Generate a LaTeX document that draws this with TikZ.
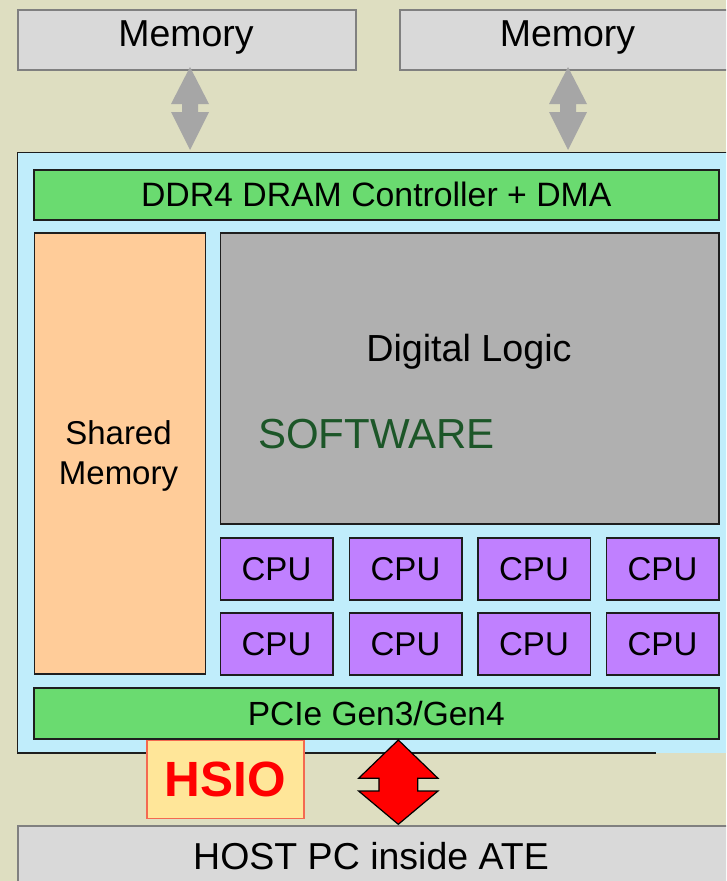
\documentclass[tikz,border=0pt]{standalone}
\usepackage{fontspec}
\setmainfont{Liberation Sans}
\usetikzlibrary{calc}

\definecolor{bgbeige}{RGB}{222,222,193}
\definecolor{memfill}{RGB}{217,217,217}
\definecolor{memline}{RGB}{128,128,128}
\definecolor{boardblue}{RGB}{192,237,251}
\definecolor{ctrlgreen}{RGB}{106,219,112}
\definecolor{shmorange}{RGB}{255,204,153}
\definecolor{logicgray}{RGB}{176,176,176}
\definecolor{cpupurple}{RGB}{192,128,255}
\definecolor{swgreen}{RGB}{28,86,40}
\definecolor{hsiofill}{RGB}{255,230,153}
\definecolor{hsioline}{RGB}{244,105,80}
\definecolor{busgray}{RGB}{166,166,166}
\definecolor{edge}{RGB}{30,30,30}

\newcommand{\fsz}[1]{\fontsize{#1pt}{#1pt}\selectfont}

\begin{document}
\begin{tikzpicture}[x=1pt,y=-1pt,
  blk/.style={draw=edge, line width=1.5pt, inner sep=0pt, anchor=north west},
  graybox/.style={blk, draw=memline, fill=memfill},
  bar/.style={blk, fill=ctrlgreen, font=\fsz{33.8}},
  cpubox/.style={blk, fill=cpupurple, minimum width=112.5pt, minimum height=62pt, font=\fsz{33}},
  txt/.style={inner sep=0pt, anchor=base},
  busarrow/.style={fill=busgray},
  hostarrow/.style={fill=red, draw=black, line width=1.2pt, line join=miter}
]
\clip (0,0) rectangle (726,881);
\fill[bgbeige] (0,0) rectangle (726,881);

% external memories
\node[graybox, minimum width=338pt, minimum height=60pt] (mem1) at (17,9) {};
\node[graybox, minimum width=340pt, minimum height=60pt] (mem2) at (399,9) {};
\node[txt, font=\fsz{37.5}] (mem1t) at (186,46) {Memory};
\node[txt, font=\fsz{37.5}] (mem2t) at (567.5,46) {Memory};

% board
\node[inner sep=0pt, anchor=north west, fill=boardblue,
      minimum width=730pt, minimum height=600pt] (board) at (17.5,152.5) {};
\draw[edge, line width=1.5pt] (board.north east) -- (board.north west)
  -- (board.south west) -- ($(board.south west)+(638,0)$);

% memory buses
\coordinate (bus1) at (190,67);
\coordinate (bus2) at (568,67);
\foreach \b in {bus1,bus2}
  \fill[busgray] (\b) -- ++(19,37) -- ++(-11,0) -- ++(0,8) -- ++(11,0)
    -- ++(-19,38) -- ++(-19,-38) -- ++(11,0) -- ++(0,-8) -- ++(-11,0) -- cycle;

% controller bars
\node[bar, minimum width=685pt, minimum height=50pt] (ddr) at (33,169)
  {DDR4 DRAM Controller + DMA};
\node[bar, minimum width=685pt, minimum height=51pt, font=\fsz{33.5}] (pcie) at (33,687)
  {PCIe Gen3/Gen4};

% shared memory
\node[blk, fill=shmorange, minimum width=171pt, minimum height=441pt] (shm) at (33.5,232) {};
\node[txt, font=\fsz{33}] (shmt1) at (118.5,444) {Shared};
\node[txt, font=\fsz{33}] (shmt2) at (118.5,484) {Memory};

% digital logic
\node[blk, fill=logicgray, minimum width=498.5pt, minimum height=291pt] (logic) at (219.5,232) {};
\node[txt, font=\fsz{37.7}] (logict) at (469,361.7) {Digital Logic};
\node[txt, anchor=base west, font=\fsz{42}, text=swgreen] (sw) at (258,448) {SOFTWARE};

% CPU array
\foreach \c/\x in {1/219.5,2/348.5,3/477,4/605.5}
  \foreach \r/\y in {1/537,2/612}
    \node[cpubox] (cpu\r\c) at (\x,\y) {CPU};

% HSIO tag
\node[blk, draw=hsioline, fill=hsiofill, minimum width=157pt, minimum height=78pt,
      font=\fsz{49.5}\bfseries, text=red] (hsio) at (146,739.5) {HSIO};

% host
\node[graybox, minimum width=730pt, minimum height=80pt] (host) at (17,825) {};
\node[txt, font=\fsz{37.5}] (hostt) at (371,869.3) {HOST PC inside ATE};

% host link
\coordinate (link) at (398.3,740);
\draw[hostarrow] (link) -- ++(39.7,38.3) -- ++(-20.3,0) -- ++(0,12.7) -- ++(20.3,0)
  -- ++(-39.7,33.3) -- ++(-39.7,-33.3) -- ++(20.3,0) -- ++(0,-12.7) -- ++(-20.3,0) -- cycle;
\end{tikzpicture}
\end{document}
